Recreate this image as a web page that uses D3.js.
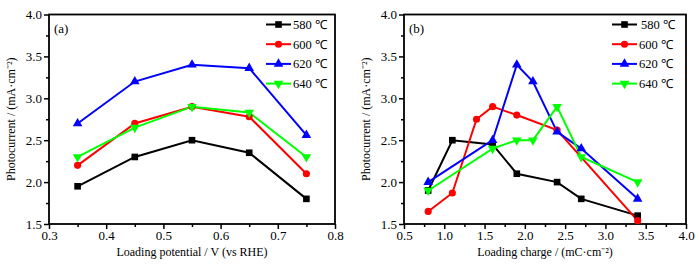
<!DOCTYPE html>
<html><head><meta charset="utf-8">
<script src="https://cdn.jsdelivr.net/npm/d3@7"></script>
<style>body{margin:0;background:#fff}svg{display:block}text{font-family:"Liberation Serif","Times New Roman",serif;fill:#000}</style>
</head><body><svg id="c" width="700" height="266"></svg>
<script>
const seriesNames = ["580 ℃","600 ℃","620 ℃","640 ℃"];
const colors = ["#000000","#ff0000","#0000ff","#00ff00"];
const shapes = ["square","circle","triangle","triangleDown"];
// Panel (a)
const potentialX = [0.35,0.45,0.55,0.65,0.75];
const a580 = [1.95,2.30,2.50,2.35,1.80];
const a600 = [2.20,2.70,2.90,2.78,2.10];
const a620 = [2.70,3.20,3.40,3.36,2.56];
const a640 = [2.30,2.65,2.90,2.83,2.30];
// Panel (b)
const b580x = [0.8,1.1,1.6,1.9,2.4,2.7,3.4];
const b580 = [1.90,2.50,2.45,2.10,2.00,1.80,1.60];
const b600x = [0.8,1.1,1.4,1.6,1.9,2.4,3.4];
const b600 = [1.65,1.87,2.75,2.90,2.80,2.62,1.54];
const b620x = [0.8,1.6,1.9,2.1,2.4,2.7,3.4];
const b620 = [2.00,2.50,3.40,3.20,2.60,2.40,1.80];
const b640x = [0.8,1.6,1.9,2.1,2.4,2.7,3.4];
const b640 = [1.90,2.40,2.50,2.50,2.90,2.30,2.00];
const yTicks = [1.5,2.0,2.5,3.0,3.5,4.0];
const aXTicks = [0.3,0.4,0.5,0.6,0.7,0.8];
const bXTicks = [0.5,1.0,1.5,2.0,2.5,3.0,3.5,4.0];

const svg = d3.select("#c");

function marker(g, shape, x, y, color){
  let sym;
  if(shape==="square") sym = d3.symbol(d3.symbolSquare, 44)();
  else if(shape==="circle") sym = d3.symbol(d3.symbolCircle, 40)();
  else sym = d3.symbol(d3.symbolTriangle, 40)();
  g.append("path").attr("d", sym)
    .attr("transform", `translate(${x},${y})` + (shape==="triangleDown" ? " rotate(180)" : ""))
    .attr("fill", color);
}

function panel(opt){
  const {left,right,top,bottom,xDomain,xTicks,xMinor,series,label,xTitle,legendX,legendTextDx} = opt;
  const x = d3.scaleLinear().domain(xDomain).range([left,right]);
  const y = d3.scaleLinear().domain([1.5,4.0]).range([bottom,top]);
  const g = svg.append("g");
  const xa = g.append("g").attr("transform",`translate(0,${bottom})`)
    .call(d3.axisBottom(x).tickValues(xTicks).tickFormat(d3.format(".1f")).tickSize(5).tickPadding(2));
  const xm = g.append("g").attr("transform",`translate(0,${bottom})`)
    .call(d3.axisBottom(x).tickValues(xMinor).tickFormat("").tickSize(3));
  const ya = g.append("g").attr("transform",`translate(${left},0)`)
    .call(d3.axisLeft(y).tickValues(yTicks).tickFormat(d3.format(".1f")).tickSize(5).tickPadding(2));
  const yMinor = yTicks.slice(0,-1).map(v=>v+0.25);
  const ym = g.append("g").attr("transform",`translate(${left},0)`)
    .call(d3.axisLeft(y).tickValues(yMinor).tickFormat("").tickSize(3));
  [xa,xm,ya,ym].forEach(a=>{a.select(".domain").remove(); a.selectAll("line").attr("stroke","#000").attr("stroke-width",1.5);});
  [xa,ya].forEach(a=>a.selectAll("text").attr("font-size",13).attr("fill","#000").style("font-family","'Liberation Serif',serif"));
  g.append("rect").attr("x",left).attr("y",top).attr("width",right-left).attr("height",bottom-top)
    .attr("fill","none").attr("stroke","#000").attr("stroke-width",1.8);
  const line = d3.line().x(d=>x(d[0])).y(d=>y(d[1]));
  series.forEach((s,i)=>{
    const pts = s.xs.map((v,j)=>[v,s.ys[j]]);
    g.append("path").attr("d",line(pts)).attr("fill","none").attr("stroke",colors[i]).attr("stroke-width",2);
  });
  series.forEach((s,i)=>{
    s.xs.forEach((v,j)=>marker(g,shapes[i],x(v),y(s.ys[j]),colors[i]));
  });
  seriesNames.forEach((n,i)=>{
    const ly = 24.5 + i*19.7;
    g.append("line").attr("x1",legendX).attr("x2",legendX+25).attr("y1",ly).attr("y2",ly)
      .attr("stroke",colors[i]).attr("stroke-width",2);
    marker(g,shapes[i],legendX+12.5,ly,colors[i]);
    g.append("text").attr("x",legendX+27+(i===0?legendTextDx:0)).attr("y",ly+4.5).attr("font-size",12.5).text(n);
  });
  g.append("text").attr("x",left+5).attr("y",33).attr("font-size",13).text(label);
  g.append("text").attr("x",(left+right)/2).attr("y",256).attr("text-anchor","middle").attr("font-size",12).text(xTitle);
  g.append("text").attr("transform",`translate(${left-34},${(top+bottom)/2}) rotate(-90)`)
    .attr("text-anchor","middle").attr("font-size",12).text("Photocurrent / (mA·cm⁻²)");
}

panel({left:49,right:335,top:14.5,bottom:224,xDomain:[0.3,0.8],xTicks:aXTicks,
  xMinor:[0.35,0.45,0.55,0.65,0.75],
  series:[{xs:potentialX,ys:a580},{xs:potentialX,ys:a600},{xs:potentialX,ys:a620},{xs:potentialX,ys:a640}],
  label:"(a)",xTitle:"Loading potential / V (vs RHE)",legendX:266,legendTextDx:0});
panel({left:404,right:686,top:14.5,bottom:224,xDomain:[0.5,4.0],xTicks:bXTicks,
  xMinor:[0.75,1.25,1.75,2.25,2.75,3.25,3.75],
  series:[{xs:b580x,ys:b580},{xs:b600x,ys:b600},{xs:b620x,ys:b620},{xs:b640x,ys:b640}],
  label:"(b)",xTitle:"Loading charge / (mC·cm⁻²)",legendX:612,legendTextDx:2});
</script></body></html>
